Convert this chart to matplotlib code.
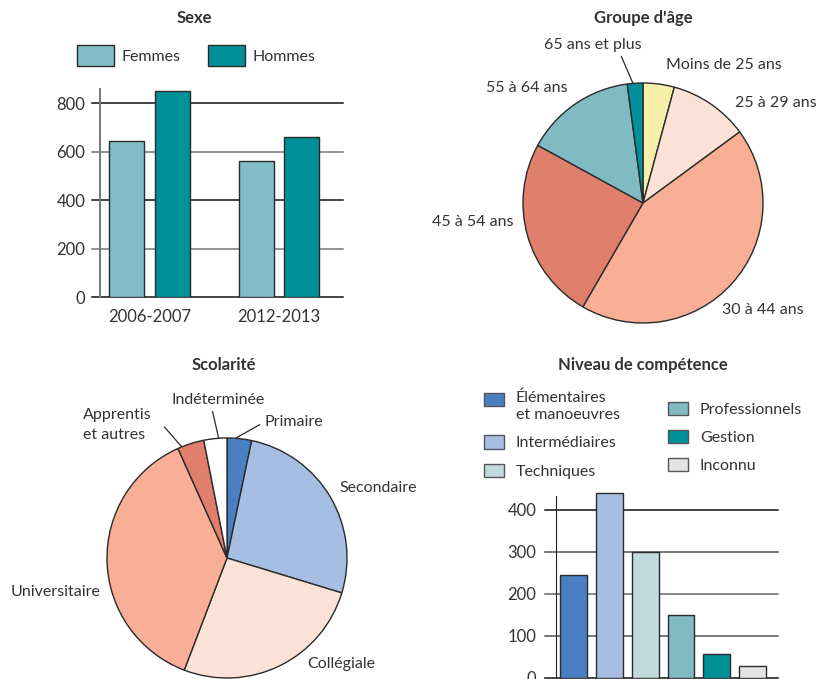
import matplotlib
matplotlib.use("Agg")
import matplotlib.pyplot as plt
from matplotlib.patches import Patch, Rectangle
from matplotlib.legend_handler import HandlerPatch
import numpy as np

plt.rcParams['font.family'] = ['Lato', 'DejaVu Sans']
TXT = "#333333"
EDGE = "#2a2a2a"

# -----------------------------
# Data
# -----------------------------
sexe_periods = ["2006-2007", "2012-2013"]
sexe_femmes = [642, 563]
sexe_hommes = [848, 662]
sexe_ticks = [0, 200, 400, 600, 800]

age_labels = ["Moins de 25 ans", "25 à 29 ans", "30 à 44 ans",
              "45 à 54 ans", "55 à 64 ans", "65 ans et plus"]
age_values = [4.2, 10.7, 43.4, 24.6, 14.9, 2.1]
age_colors = ["#f7eeaa", "#fce2d6", "#f8af95", "#e07f6c", "#80bbc4", "#00909a"]

scol_labels = ["Primaire", "Secondaire", "Collégiale", "Universitaire",
               "Apprentis\net autres", "Indéterminée"]
scol_values = [3.3, 26.4, 26.1, 37.5, 3.6, 3.1]
scol_colors = ["#4a80c2", "#a6bee2", "#fce2d6", "#f8af95", "#e07f6c", "#ffffff"]

comp_labels = ["Élémentaires\net manoeuvres", "Intermédiaires", "Techniques",
               "Professionnels", "Gestion", "Inconnu"]
comp_values = [245, 440, 301, 151, 57, 28]
comp_colors = ["#4a80c2", "#a6bee2", "#bfdbdd", "#80bbc4", "#00909a", "#e4e4e4"]
comp_ticks = [0, 100, 200, 300, 400]

W, H = 820, 679
fig = plt.figure(figsize=(8.2, 6.79), dpi=100)


def box(x0, y0, x1, y1):
    # pixel box (top-left origin) -> figure fraction
    return [x0 / W, 1 - y1 / H, (x1 - x0) / W, (y1 - y0) / H]


def hgrid(ax, ticks, colors, ext):
    for t, c in zip(ticks, colors):
        ax.axhline(t, xmin=-ext, xmax=1, color=c, lw=1.1, clip_on=False, zorder=1)


def title(x, y, s):
    fig.text(x / W, 1 - y / H, s, ha="center", va="center",
             fontsize=12, fontweight="bold", color=TXT)


# -----------------------------
# Sexe
# -----------------------------
ax1 = fig.add_axes(box(100, 88.5, 343, 297))
x = np.arange(len(sexe_periods))
ax1.bar(x - 0.174, sexe_femmes, width=0.27, color="#82bcc6", edgecolor=EDGE, lw=1, zorder=3)
ax1.bar(x + 0.174, sexe_hommes, width=0.27, color="#00909a", edgecolor=EDGE, lw=1, zorder=3)
ax1.set_xlim(-0.382, 1.494)
ax1.set_ylim(0, 860)
hgrid(ax1, sexe_ticks, ["#111", "#777", "#111", "#777", "#111"], 0.033)
ax1.set_yticks(sexe_ticks)
ax1.set_xticks(x)
ax1.set_xticklabels(sexe_periods)
ax1.tick_params(axis="y", length=0, pad=10.5, labelsize=12, labelcolor=TXT)
ax1.tick_params(axis="x", length=0, pad=9, labelsize=12, labelcolor=TXT)
for s in ["top", "right", "bottom"]:
    ax1.spines[s].set_visible(False)
ax1.spines["left"].set_color("#777")
ax1.spines["left"].set_linewidth(1.4)
title(194, 18, "Sexe")
fig.legend(handles=[Patch(facecolor="#82bcc6", edgecolor=EDGE, label="Femmes"),
                    Patch(facecolor="#00909a", edgecolor=EDGE, label="Hommes")],
           loc="upper left", bbox_to_anchor=(77 / W, 1 - 45 / H), ncol=2,
           frameon=False, borderpad=0, borderaxespad=0, fontsize=11.5, labelcolor=TXT,
           handlelength=2.3, handleheight=1.64, handletextpad=0.5, columnspacing=1.7)

# -----------------------------
# Groupe d'âge
# -----------------------------
ax2 = fig.add_axes(box(643 - 192, 203 - 192, 643 + 192, 203 + 192))
ax2.pie(age_values, colors=age_colors, startangle=90, counterclock=False,
        wedgeprops=dict(edgecolor=EDGE, linewidth=1))
ax2.set_xlim(-1.6, 1.6)
ax2.set_ylim(-1.6, 1.6)
ax2.set_aspect("equal")
age_pos = [(0.67, 1.15), (1.11, 0.83), (1.0, -0.89),
           (-1.42, -0.16), (-0.97, 0.96), (-0.42, 1.32)]
for lab, (lx, ly) in zip(age_labels, age_pos):
    ax2.text(lx, ly, lab, ha="center", va="center", fontsize=11.5, color=TXT)
ax2.plot([-0.18, -0.085], [1.22, 1.0], color=EDGE, lw=0.9)
title(643, 18, "Groupe d'âge")

# -----------------------------
# Scolarité
# -----------------------------
ax3 = fig.add_axes(box(227 - 192, 558 - 192, 227 + 192, 558 + 192))
ax3.pie(scol_values, colors=scol_colors, startangle=90, counterclock=False,
        wedgeprops=dict(edgecolor=EDGE, linewidth=1))
ax3.set_xlim(-1.6, 1.6)
ax3.set_ylim(-1.6, 1.6)
ax3.set_aspect("equal")
scol_pos = [(0.56, 1.13), (1.26, 0.58), (0.95, -0.88),
            (-1.43, -0.28), (-1.2, 1.11), (-0.07, 1.32)]
scol_ha = ["center", "center", "center", "center", "left", "center"]
for lab, (lx, ly), ha in zip(scol_labels, scol_pos, scol_ha):
    ax3.text(lx, ly, lab, ha=ha, va="center", fontsize=11.5, color=TXT,
             linespacing=1.5)
ax3.plot([0.27, 0.075], [1.11, 1.0], color=EDGE, lw=0.9)
ax3.plot([-0.12, -0.07], [1.22, 1.0], color=EDGE, lw=0.9)
ax3.plot([-0.52, -0.38], [1.09, 0.93], color=EDGE, lw=0.9)
title(224, 365, "Scolarité")

# -----------------------------
# Niveau de compétence
# -----------------------------
ax4 = fig.add_axes(box(556, 491.1, 778, 678))
xc = np.arange(len(comp_values))
ax4.bar(xc, comp_values, width=0.75, color=comp_colors, edgecolor=EDGE, lw=1, zorder=3)
ax4.set_xlim(-0.49, 5.71)
ax4.set_ylim(0, 445)
hgrid(ax4, comp_ticks, ["#111", "#555", "#666", "#555", "#111"], 0.05)
ax4.set_yticks(comp_ticks)
ax4.set_xticks([])
ax4.tick_params(axis="y", length=0, pad=14, labelsize=12, labelcolor=TXT)
for s in ["top", "right", "bottom"]:
    ax4.spines[s].set_visible(False)
ax4.spines["left"].set_color("#222")
ax4.spines["left"].set_bounds(0, 433)
title(643, 365, "Niveau de compétence")


def top_line_patch(legend, orig_handle, xdescent, ydescent, width, height, fontsize):
    # put the swatch beside the first line of a two-line label
    return Rectangle((-xdescent, -ydescent + 0.45 * fontsize), width, height)


handles = [Patch(facecolor=c, edgecolor="#555", label=l)
           for c, l in zip(comp_colors, comp_labels)]
fig.legend(handles=handles[:3], loc="upper left", bbox_to_anchor=(484 / W, 1 - 391 / H),
           frameon=False, borderpad=0, borderaxespad=0, fontsize=11.5, labelcolor=TXT,
           handlelength=1.25, handleheight=0.9, handletextpad=0.75, labelspacing=0.85,
           handler_map={handles[0]: HandlerPatch(patch_func=top_line_patch)})
fig.legend(handles=handles[3:], loc="upper left", bbox_to_anchor=(668 / W, 1 - 402 / H),
           frameon=False, borderpad=0, borderaxespad=0, fontsize=11.5, labelcolor=TXT,
           handlelength=1.25, handleheight=0.9, handletextpad=0.75, labelspacing=0.8)

fig.savefig("out.png", dpi=100)
